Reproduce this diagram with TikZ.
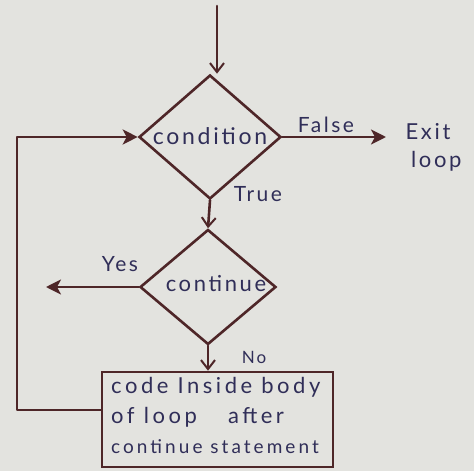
\documentclass[tikz,border=0pt]{standalone}
\usepackage{fontspec}
\setmainfont{Lato}[LetterSpace=12]
\usetikzlibrary{shapes.geometric,arrows.meta,calc}
\definecolor{paper}{RGB}{227,227,223}
\definecolor{ink}{RGB}{78,38,40}
\definecolor{pen}{RGB}{48,46,88}
\begin{document}
\begin{tikzpicture}[x=1pt,y=-1pt,
  flow/.style={draw=ink,line width=2.6pt,line cap=round,line join=round},
  openhead/.style={flow,-{Straight Barb[length=9pt,width=14pt,line width=2pt]}},
  fillhead/.style={flow,-{Stealth[length=15pt,width=15pt,inset=4pt]}},
  decision/.style={diamond,draw=ink,line width=2.6pt,inner sep=0pt},
  process/.style={draw=ink,line width=2.6pt,inner sep=0pt},
  lbl/.style={text=pen,font=\fontsize{21}{22}\selectfont,inner sep=0pt},
  bodytext/.style={text=pen,font=\fontsize{22}{30}\selectfont\addfontfeature{LetterSpace=16},inner sep=0pt,align=left}]
\fill[paper] (0,0) rectangle (474,471);
\useasboundingbox (0,0) rectangle (474,471);

% decisions
\node[decision,minimum width=142pt,minimum height=124pt] (cond) at (210,137) {};
\node[lbl,font=\fontsize{23}{24}\selectfont] (condtxt) at (210,136) {condition};
\node[decision,minimum width=136pt,minimum height=115pt] (cont) at (208,287) {};
\node[lbl,font=\fontsize{22}{24}\selectfont] (conttxt) at (216,284) {continue};

% loop body
\node[process,minimum width=231pt,minimum height=95pt] (body) at (217.5,419.5) {};
\node[bodytext,anchor=north west] (bodytxt) at (111,377)
  {code Inside body\\of loop \quad after\\{\fontsize{19}{20}\selectfont\addfontfeature{LetterSpace=16}continue statement}};

% free ends
\coordinate (start) at (217,6);
\coordinate (exit) at (386,137);
\coordinate (yesend) at (46,287);
\coordinate (back) at (17,410);

% connectors
\draw[openhead] (start) -- (cond.north -| start);
\draw[openhead] (cond.south) -- (cont.north);
\draw[openhead] (cont.south) -- (body.north -| cont.south);
\draw[fillhead] (cond.east) -- (exit);
\draw[fillhead] (cont.west) -- (yesend);
\draw[flow] (body.west |- back) -- (back) |- ($(cond.west)+(-4,0)$);
\draw[fillhead] ($(cond.west)+(-30,0)$) -- (cond.west);

% labels
\node[lbl] (falselbl) at (326,125) {False};
\node[lbl] (truelbl) at (258,194) {True};
\node[lbl] (yeslbl) at (120,264) {Yes};
\node[lbl,font=\fontsize{17}{18}\selectfont] (nolbl) at (254,357) {No};
\node[lbl,align=center,font=\fontsize{22}{24}\selectfont] (exitlbl) at (428,147) {Exit\\[4pt]\ \ loop};
\end{tikzpicture}
\end{document}
